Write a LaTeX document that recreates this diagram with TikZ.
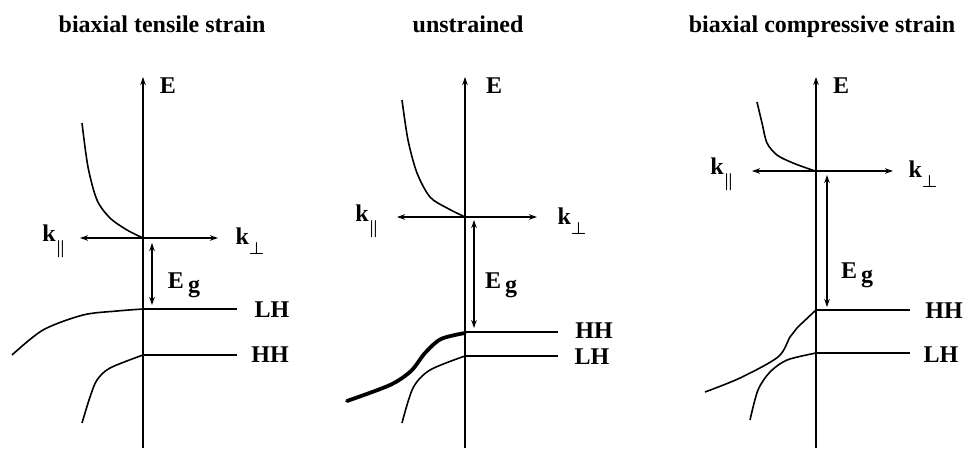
\documentclass[tikz,border=0pt]{standalone}
\usepackage{fontspec}
\setmainfont{Liberation Serif}
\usetikzlibrary{arrows.meta}
\newcommand{\kpar}{\textbf{k}\raisebox{-12pt}{\boldmath$\scriptstyle\|$}}
\newcommand{\kperp}{\textbf{k}\raisebox{-10pt}{\boldmath$\scriptstyle\perp$}}
\newcommand{\Egap}{\textbf{E}\,\raisebox{-4pt}{\textbf{g}}}

\begin{document}
\begin{tikzpicture}[x=1pt,y=-1pt,
    lab/.style={font=\fontsize{24}{28}\selectfont\bfseries,inner sep=0pt},
    title/.style={lab,anchor=base},
    band/.style={-,line width=1.6pt},
    tip/.style={-{Stealth[length=8pt,width=5.5pt]},line width=1.7pt},
    dtip/.style={{Stealth[length=8pt,width=5.5pt]}-{Stealth[length=8pt,width=5.5pt]},line width=1.6pt}]
    \useasboundingbox (0,0) rectangle (971,448);

    % titles
    \node[title] (t1) at (162,32) {biaxial tensile strain};
    \node[title] (t2) at (468,32) {unstrained};
    \node[title] (t3) at (822,32) {biaxial compressive strain};

    % biaxial tensile strain
    \coordinate (b1) at (143,448);
    \coordinate (a1) at (143,77);
    \coordinate (l1) at (80,238);
    \coordinate (r1) at (218,238);
    \coordinate (g1) at (152,243);
    \coordinate (h1) at (152,305);
    \coordinate (p1) at (143,309);
    \coordinate (q1) at (237,309);
    \coordinate (m1) at (143,355);
    \coordinate (n1) at (237,355);
    \node[lab] (E1) at (168,86) {E};
    \node[lab] (kpa1) at (54,241) {\kpar};
    \node[lab] (kpe1) at (250,241) {\kperp};
    \node[lab] (Eg1) at (184,285) {\Egap};
    \node[lab] (LH1) at (272,310) {LH};
    \node[lab] (HH1) at (270,355) {HH};

    \path
    (b1) edge[tip] (a1)
    (l1) edge[dtip] (r1)
    (g1) edge[dtip] (h1)
    (p1) edge[band] (q1)
    (m1) edge[band] (n1);

    \draw[band] plot[smooth] coordinates {(82,123) (88,167) (97,200) (110,218) (127,230) (143,238)};
    \draw[band] plot[smooth] coordinates {(12,355) (43,330) (83,315) (117,311) (143,309)};
    \draw[band] plot[smooth] coordinates {(82,423) (90,397) (97,380) (110,368) (143,355)};

    % unstrained
    \coordinate (b2) at (465,448);
    \coordinate (a2) at (465,77);
    \coordinate (l2) at (397,217);
    \coordinate (r2) at (537,217);
    \coordinate (g2) at (474,220);
    \coordinate (h2) at (474,328);
    \coordinate (p2) at (465,332);
    \coordinate (q2) at (558,332);
    \coordinate (m2) at (465,356);
    \coordinate (n2) at (558,356);
    \node[lab] (E2) at (494,86) {E};
    \node[lab] (kpa2) at (367,221) {\kpar};
    \node[lab] (kpe2) at (572,221) {\kperp};
    \node[lab] (Eg2) at (501,285) {\Egap};
    \node[lab] (HH2) at (594,331) {HH};
    \node[lab] (LH2) at (592,357) {LH};

    \path
    (b2) edge[tip] (a2)
    (l2) edge[dtip] (r2)
    (g2) edge[dtip] (h2)
    (p2) edge[band] (q2)
    (m2) edge[band] (n2);

    \draw[band] plot[smooth] coordinates {(402,100) (408,140) (417,173) (430,197) (447,208) (465,217)};
    \draw[line width=3.8pt,line cap=round] plot[smooth] coordinates {(347,401) (390,385) (411,371) (425,353) (441,339) (465,333)};
    \draw[band] plot[smooth] coordinates {(402,423) (413,388) (430,370) (465,356)};

    % biaxial compressive strain
    \coordinate (b3) at (816,448);
    \coordinate (a3) at (816,77);
    \coordinate (l3) at (752,171);
    \coordinate (r3) at (893,171);
    \coordinate (g3) at (827,175);
    \coordinate (h3) at (827,307);
    \coordinate (p3) at (816,310);
    \coordinate (q3) at (910,310);
    \coordinate (m3) at (816,353);
    \coordinate (n3) at (910,353);
    \node[lab] (E3) at (841,86) {E};
    \node[lab] (kpa3) at (722,174) {\kpar};
    \node[lab] (kpe3) at (923,174) {\kperp};
    \node[lab] (Eg3) at (857,275) {\Egap};
    \node[lab] (HH3) at (944,311) {HH};
    \node[lab] (LH3) at (941,355) {LH};

    \path
    (b3) edge[tip] (a3)
    (l3) edge[dtip] (r3)
    (g3) edge[dtip] (h3)
    (p3) edge[band] (q3)
    (m3) edge[band] (n3);

    \draw[band] plot[smooth] coordinates {(757,102) (762,123) (767,143) (777,155) (793,163) (815,171)};
    \draw[band] plot[smooth] coordinates {(705,392) (740,378) (778,357) (790,337) (797,328) (816,310)};
    \draw[band] plot[smooth] coordinates {(750,420) (758,390) (770,372) (787,360) (816,353)};

  \end{tikzpicture}
\end{document}
